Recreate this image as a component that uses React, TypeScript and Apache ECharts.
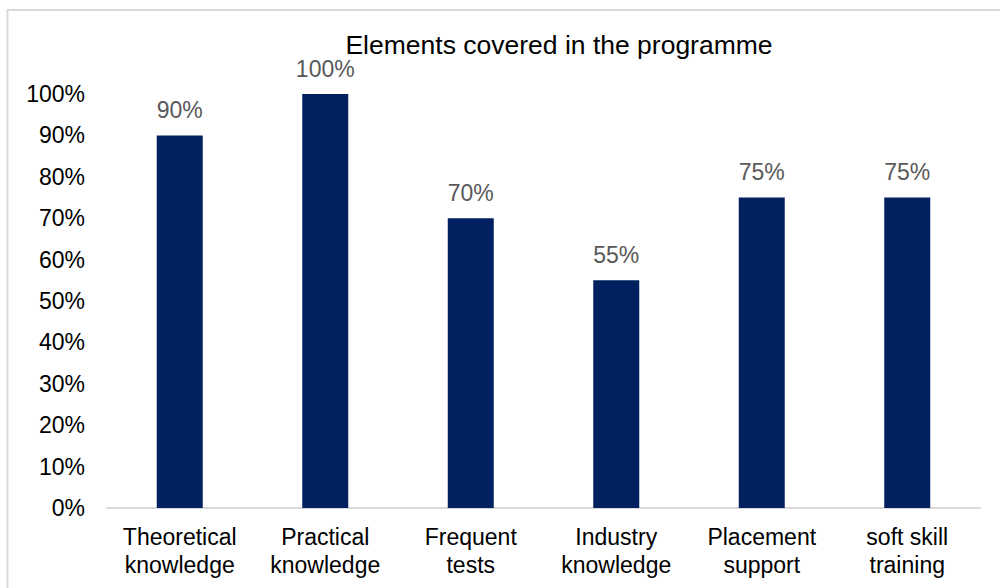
import React, { useEffect, useRef } from "react";
import * as echarts from "echarts";

const categories = [
  "Theoretical\nknowledge",
  "Practical\nknowledge",
  "Frequent\ntests",
  "Industry\nknowledge",
  "Placement\nsupport",
  "soft skill\ntraining",
];
const values = [0.9, 1.0, 0.7, 0.55, 0.75, 0.75];
const titleText = "Elements covered in the programme";

const FONT = "'Liberation Sans', Arial, sans-serif";

export default function App() {
  const ref = useRef<HTMLDivElement>(null);
  useEffect(() => {
    if (!ref.current) return;
    const chart = echarts.init(ref.current, undefined, { renderer: "svg" });
    chart.setOption({
      animation: false,
      backgroundColor: "#ffffff",
      textStyle: { fontFamily: FONT },
      title: {
        text: titleText,
        left: 559,
        top: 31,
        padding: 0,
        textAlign: "center",
        textStyle: { fontFamily: FONT, fontSize: 26.5, fontWeight: "normal", color: "#000000" },
      },
      graphic: [
        {
          type: "rect",
          shape: { x: 7.5, y: 10, width: 1200, height: 800 },
          style: { fill: "none", stroke: "#d9d9d9", lineWidth: 2 },
          silent: true,
        },
      ],
      grid: { left: 107, right: 20, top: 94, bottom: 80, containLabel: false },
      xAxis: {
        type: "category",
        data: categories,
        axisLine: { lineStyle: { color: "#d9d9d9", width: 2 } },
        axisTick: { show: false },
        axisLabel: {
          interval: 0,
          color: "#000000",
          fontFamily: FONT,
          fontSize: 23,
          lineHeight: 28,
          margin: 15,
        },
      },
      yAxis: {
        type: "value",
        min: 0,
        max: 1,
        interval: 0.1,
        splitLine: { show: false },
        axisLine: { show: false },
        axisTick: { show: false },
        axisLabel: {
          color: "#000000",
          fontFamily: FONT,
          fontSize: 23,
          margin: 22,
          formatter: (v: number) => Math.round(v * 100) + "%",
        },
      },
      series: [
        {
          type: "bar",
          data: values,
          barWidth: 46,
          itemStyle: { color: "#002060" },
          label: {
            show: true,
            position: "top",
            distance: 14,
            color: "#595959",
            fontFamily: FONT,
            fontSize: 23,
            formatter: (p: any) => Math.round(p.value * 100) + "%",
          },
        },
      ],
    });
    return () => chart.dispose();
  }, []);
  return (
    <div
      ref={ref}
      style={{ position: "fixed", left: 0, top: 0, width: 1000, height: 588 }}
    />
  );
}
